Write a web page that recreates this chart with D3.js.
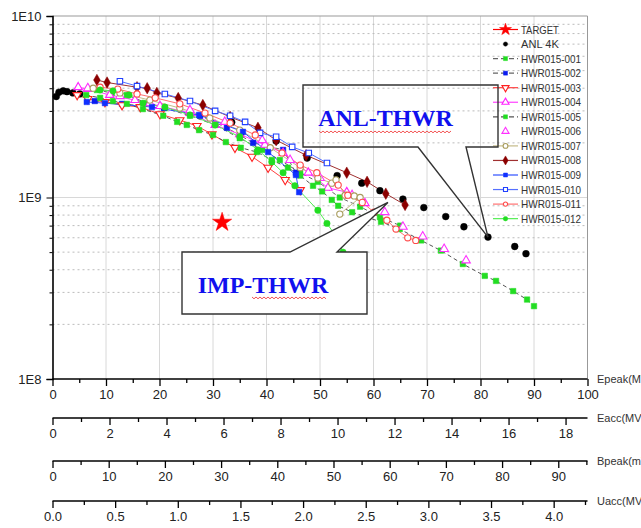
<!DOCTYPE html>
<html>
<head>
<meta charset="utf-8">
<script src="https://cdn.jsdelivr.net/npm/d3@7"></script>
<style>
  body { margin: 0; background: #fff; }
  svg { display: block; font-family: "Liberation Sans", Arial, sans-serif; }
</style>
</head>
<body>
<svg id="chart"></svg>
<script>
// Q0 vs Epeak (MV/m)
var target = [[31.7, 7.3e8]];
var anl4k = [[0.7,3.6e9],[1.2,3.8e9],[2.0,3.87e9],[2.7,3.83e9],[3.8,3.77e9],[5.1,3.72e9],
  [33.5,2.6e9],[35.2,2.24e9],[41.8,2.05e9],[47.6,1.65e9],[53.2,1.32e9],[57.8,1.2e9],
  [61.2,1.09e9],[65.5,9.8e8],[69.4,8.8e8],[73.5,7.85e8],[76.9,6.9e8],[81.4,6.05e8],
  [86.4,5.37e8],[88.5,4.9e8]];
var hwr001 = [[8.3,3.91e9],[11.1,3.77e9],[13.9,3.67e9],[17.7,3.31e9],[21.0,3.11e9],[25.7,2.82e9],
  [30.4,2.51e9],[35.0,2.12e9],[39.2,1.83e9],[42.5,1.61e9],[46.3,1.37e9],[49.6,1.22e9],
  [53.7,1.0e9],[57.5,8.9e8],[61.2,7.8e8],[65.0,7.0e8]];
var hwr002 = [[7.9,3.4e9],[13.0,3.28e9],[20.8,3.11e9],[27.6,2.82e9],[32.6,2.42e9],[37.5,2.0e9],
  [43.1,1.83e9],[45.5,1.37e9]];
var hwr003 = [[4.6,3.67e9],[6.6,3.49e9],[9.8,3.36e9],[13.0,3.23e9],[16.4,3.15e9],[20.1,2.88e9],
  [23.8,2.67e9],[27.0,2.48e9],[29.8,2.23e9],[34.1,1.88e9],[37.3,1.68e9],[40.3,1.46e9],
  [43.5,1.25e9],[46.3,1.1e9]];
var hwr004 = [[4.8,4.05e9],[6.6,3.96e9],[10.7,3.67e9],[15.4,3.44e9],[20.1,3.19e9],[25.7,2.92e9],
  [30.4,2.51e9],[35.0,2.23e9],[39.7,1.95e9],[43.1,1.76e9],[47.8,1.37e9],[51.5,1.13e9],
  [55.0,1.07e9],[58.4,9.3e8]];
var hwr005 = [[6.3,3.67e9],[8.9,3.54e9],[11.3,3.4e9],[13.9,3.28e9],[16.9,3.07e9],[20.7,2.82e9],
  [23.3,2.61e9],[25.1,2.51e9],[27.4,2.35e9],[30.0,2.21e9],[32.4,2.02e9],[35.2,1.88e9],
  [38.2,1.78e9],[41.0,1.61e9],[44.0,1.46e9],[46.3,1.32e9],[48.7,1.16e9],[50.4,1.08e9],
  [52.2,9.7e8],[53.4,9.0e8],[56.0,8.3e8],[58.6,7.8e8],[61.4,7.35e8],[64.9,6.7e8],
  [68.9,5.8e8],[72.6,5.1e8],[76.7,4.3e8],[80.8,3.7e8],[82.9,3.47e8],[86.1,3.05e8],
  [88.7,2.74e8],[90.0,2.52e8]];
var hwr006 = [[6.6,4.0e9],[12.6,3.62e9],[18.2,3.31e9],[25.7,3.03e9],[32.2,2.61e9],[39.2,2.07e9],
  [44.4,1.61e9],[50.0,1.28e9],[56.0,1.03e9],[62.1,8.3e8],[65.5,6.9e8],[69.2,6.1e8],
  [73.2,5.2e8],[77.3,4.5e8]];
var hwr007 = [[7.6,4.0e9],[12.6,3.77e9],[18.2,3.44e9],[23.8,3.11e9],[29.4,2.74e9],[35.0,2.35e9],
  [40.7,1.88e9],[46.3,1.46e9],[49.6,1.28e9],[52.2,1.2e9],[53.0,1.25e9],[54.7,1.03e9],
  [56.4,1.02e9],[57.5,1.0e9],[53.7,8.1e8]];
var hwr008 = [[8.3,4.44e9],[10.2,4.3e9],[15.8,4.05e9],[17.7,4.0e9],[19.5,3.77e9],[23.5,3.53e9],
  [28.1,3.23e9],[33.2,2.78e9],[38.4,2.42e9],[41.8,2.07e9],[47.4,1.71e9],[55.0,1.37e9],
  [58.8,1.22e9],[62.3,1.05e9],[65.9,9.1e8]];
var hwr009 = [[6.4,3.36e9],[9.8,3.31e9],[18.6,3.15e9],[27.4,2.85e9],[35.6,2.3e9],[40.3,1.78e9],
  [45.5,1.33e9],[46.1,1.07e9]];
var hwr010 = [[12.6,4.37e9],[15.8,4.11e9],[21.0,3.72e9],[25.7,3.4e9],[30.4,3.0e9],[33.2,2.82e9],
  [36.0,2.61e9],[38.8,2.27e9],[41.8,2.16e9],[44.8,1.9e9],[47.9,1.76e9],[51.3,1.55e9]];
var hwr011 = [[8.9,4.05e9],[12.2,3.96e9],[15.8,3.72e9],[19.2,3.54e9],[23.8,3.28e9],[28.5,2.92e9],
  [33.2,2.57e9],[37.9,2.21e9],[42.9,1.76e9],[46.3,1.51e9],[49.4,1.37e9],[53.4,1.17e9],
  [55.2,1.03e9],[57.9,9.4e8],[60.1,8.3e8],[62.5,7.5e8],[64.2,6.7e8],[66.4,6.0e8],[67.9,5.8e8]];
var hwr012 = [[8.9,3.91e9],[11.3,3.87e9],[14.3,3.67e9],[16.9,3.31e9],[21.0,3.15e9],[25.7,2.85e9],
  [30.4,2.51e9],[35.0,2.16e9],[38.4,1.83e9],[41.0,1.57e9],[43.1,1.37e9],[45.3,1.16e9],
  [49.6,8.5e8],[51.3,7.2e8],[53.0,6.1e8],[54.3,5.0e8]];

// axis ticks
var epeakTicks = d3.range(0, 101, 10);
var eaccTicks = d3.range(0, 19, 2);
var bpeakTicks = d3.range(0, 91, 10);
var uaccTicks = d3.range(0, 4.01, 0.5);
var qTicks = [1e8, 1e9, 1e10];
var qTickLabels = ["1E8", "1E9", "1E10"];

// config
var config = { w: 641, h: 528, left: 52.5, right: 587.5, top: 16, bottom: 379 };

var svg = d3.select("#chart").attr("width", config.w).attr("height", config.h);

var x = d3.scaleLinear().domain([0, 100]).range([config.left, config.right]);
var y = d3.scaleLog().domain([1e8, 1e10]).range([config.bottom, config.top]);

// grid
var grid = svg.append("g");
grid.selectAll("line.v").data(epeakTicks.slice(1, -1)).enter().append("line")
  .attr("x1", x).attr("x2", x).attr("y1", config.top).attr("y2", config.bottom)
  .attr("stroke", "#d8d8d8").attr("stroke-width", 1);
var minorQ = [];
[1e8, 1e9].forEach(function(d) { for (var k = 2; k < 10; k++) minorQ.push(d * k); });
grid.selectAll("line.h").data(minorQ).enter().append("line")
  .attr("x1", config.left).attr("x2", config.right).attr("y1", y).attr("y2", y)
  .attr("stroke", "#bbb").attr("stroke-dasharray", "2,3");
grid.append("line").attr("x1", config.left).attr("x2", config.right)
  .attr("y1", y(1e9)).attr("y2", y(1e9)).attr("stroke", "#d8d8d8");
// top/right frame
grid.append("path")
  .attr("d", "M" + config.left + "," + config.top + "H" + config.right + "V" + config.bottom)
  .attr("fill", "none").attr("stroke", "#999");

// left axis
var yAxis = svg.append("g").attr("transform", "translate(" + config.left + ",0)")
  .call(d3.axisLeft(y).tickValues(qTicks).tickSize(6)
    .tickFormat(function(d, i) { return qTickLabels[i]; }));
svg.append("g").attr("transform", "translate(" + config.left + ",0)")
  .call(d3.axisLeft(y).tickValues(minorQ).tickSize(3).tickFormat(""))
  .select(".domain").remove();
yAxis.selectAll("text").attr("font-size", 13).attr("fill", "#222").attr("x", -11);
yAxis.select(".domain").attr("stroke-width", 1.6);

// bottom axes
function bottomAxis(scale, yPos, major, minor, fmt, title) {
  var g = svg.append("g").attr("transform", "translate(0," + yPos + ")");
  g.call(d3.axisBottom(scale).tickValues(major).tickSize(7).tickSizeOuter(0).tickFormat(fmt));
  g.append("g").call(d3.axisBottom(scale).tickValues(minor).tickSize(4).tickFormat(""))
    .select(".domain").remove();
  g.select(".domain").attr("d", "M" + config.left + ",0H" + config.right).attr("stroke-width", 1.6);
  g.selectAll("text").attr("font-size", 13).attr("fill", "#222").attr("dy", "0.62em").attr("y", 12);
  g.selectAll("line").attr("stroke-width", 1.3);
  svg.append("text").attr("x", 597).attr("y", yPos + 4).attr("font-size", 11)
    .attr("fill", "#333").text(title);
  return g;
}
bottomAxis(x, config.bottom, epeakTicks, d3.range(5, 100, 10), d3.format("d"), "Epeak(MV/m)");
var eacc = d3.scaleLinear().domain([0, 18.77]).range([config.left, config.right]);
bottomAxis(eacc, 418, eaccTicks, d3.range(1, 19, 2), d3.format("d"), "Eacc(MV/m)");
var bpeak = d3.scaleLinear().domain([0, 95.2]).range([config.left, config.right]);
bottomAxis(bpeak, 461, bpeakTicks, d3.range(5, 96, 10), d3.format("d"), "Bpeak(mT)");
var uacc = d3.scaleLinear().domain([0, 4.27]).range([config.left, config.right]);
bottomAxis(uacc, 501, uaccTicks, d3.range(0.25, 4.27, 0.5), d3.format(".1f"), "Uacc(MV)");

// series styling
var series = [
  { name: "TARGET", data: target, color: "#ff0000", line: "#ff0000", sym: d3.symbolStar, size: 115, lsize: 45, fill: true, noLine: true },
  { name: "ANL 4K", data: anl4k, color: "#000", line: null, sym: d3.symbolCircle, size: 36, lsize: 14, fill: true },
  { name: "HWR015-001", data: hwr001, color: "#22dd22", line: "#666", dash: "4,3", sym: d3.symbolSquare, size: 30, lsize: 16, fill: true },
  { name: "HWR015-002", data: hwr002, color: "#0a1cf0", line: "#666", dash: "4,3", sym: d3.symbolSquare, size: 30, lsize: 16, fill: true },
  { name: "HWR015-003", data: hwr003, color: "#ff2020", line: "#ff4040", sym: d3.symbolTriangle, rot: 180, size: 30, lsize: 22, fill: false },
  { name: "HWR015-004", data: hwr004, color: "#ff20ff", line: "#ff40ff", sym: d3.symbolTriangle, size: 30, lsize: 22, fill: false },
  { name: "HWR015-005", data: hwr005, color: "#22dd22", line: "#555", dash: "4,3", sym: d3.symbolSquare, size: 30, lsize: 16, fill: true },
  { name: "HWR015-006", data: hwr006, color: "#ff30ff", line: null, sym: d3.symbolTriangle, size: 32, lsize: 22, fill: false },
  { name: "HWR015-007", data: hwr007, color: "#a89c5c", line: "#c4bb88", sym: d3.symbolCircle, size: 30, lsize: 18, fill: false },
  { name: "HWR015-008", data: hwr008, color: "#8b0000", line: "#a03030", sym: d3.symbolDiamond, size: 38, lsize: 24, fill: true },
  { name: "HWR015-009", data: hwr009, color: "#1030ff", line: "#3050ff", sym: d3.symbolSquare, size: 30, lsize: 16, fill: true },
  { name: "HWR015-010", data: hwr010, color: "#2040ff", line: "#5570ff", sym: d3.symbolSquare, size: 30, lsize: 16, fill: false },
  { name: "HWR015-011", data: hwr011, color: "#ff4a4a", line: "#ff7070", sym: d3.symbolCircle, size: 30, lsize: 14, fill: false },
  { name: "HWR015-012", data: hwr012, color: "#22dd22", line: "#55ee55", sym: d3.symbolCircle, size: 32, lsize: 16, fill: true }
];

var line = d3.line().x(function(d) { return x(d[0]); }).y(function(d) { return y(d[1]); });

var plot = svg.append("g").attr("id", "plot");
series.forEach(function(s) {
  if (!s.line || s.noLine) return;
  plot.append("path").attr("d", line(s.data)).attr("fill", "none")
    .attr("stroke", s.line).attr("stroke-width", 1)
    .attr("stroke-dasharray", s.dash || null);
});

function drawMarkers(g, s, pts, size) {
  g.selectAll(null).data(pts).enter().append("path")
    .attr("d", d3.symbol().type(s.sym).size(size))
    .attr("transform", function(d) {
      return "translate(" + d[0] + "," + d[1] + ")" + (s.rot ? " rotate(" + s.rot + ")" : "");
    })
    .attr("fill", s.fill ? s.color : "#fff")
    .attr("stroke", s.color).attr("stroke-width", s.fill ? 0.5 : 1.1);
}
series.slice(1).concat(series.slice(0, 1)).forEach(function(s) {
  drawMarkers(plot, s, s.data.map(function(d) { return [x(d[0]), y(d[1])]; }), s.size);
});

// legend
var leg = svg.append("g").attr("id", "legend");
series.forEach(function(s, i) {
  var yy = 29.5 + i * 14.55;
  var r = leg.append("g").attr("transform", "translate(0," + yy + ")");
  if (s.line) {
    r.append("line").attr("x1", 493).attr("x2", 518).attr("y1", 0).attr("y2", 0)
      .attr("stroke", i < 2 ? s.color : s.line).attr("stroke-width", 1.2)
      .attr("stroke-dasharray", s.dash ? "5,3" : null);
  }
  drawMarkers(r, s, [[505.5, 0]], s.lsize);
  var t = r.append("text").attr("x", 521).attr("y", 4).attr("font-size", 11)
    .attr("fill", "#333").text(s.name);
  if (i > 1) t.attr("textLength", 60).attr("lengthAdjust", "spacingAndGlyphs");
  else t.attr("textLength", s.name.length * 6.3).attr("lengthAdjust", "spacingAndGlyphs");
});

// annotations
function wavy(x0, x1, yy) {
  var d = "M" + x0 + "," + yy, k = 0;
  for (var xx = x0 + 2; xx <= x1; xx += 2) { d += "L" + xx + "," + (yy + (k++ % 2 ? 0 : 1.8)); }
  return d;
}
var ann = svg.append("g").attr("id", "annotations");
var anlTip = [x(81.4), y(6.05e8)];
ann.append("path")
  .attr("d", "M303,85H498V147H466L" + anlTip[0] + "," + anlTip[1] + "L418,147H303Z")
  .attr("fill", "none").attr("stroke", "#333").attr("stroke-width", 1.4);
ann.append("text").attr("x", 385.5).attr("y", 126).attr("text-anchor", "middle")
  .attr("font-family", "'Liberation Serif', 'Times New Roman', serif").attr("font-weight", "bold")
  .attr("font-size", 24).attr("fill", "#1010ee").text("ANL-THWR");
ann.append("path").attr("d", wavy(319, 452, 131)).attr("fill", "none")
  .attr("stroke", "#f04040").attr("stroke-width", 0.9);

var impTip = [x(62.7), y(9.4e8)];
ann.append("path")
  .attr("d", "M182,252H290L" + impTip[0] + "," + impTip[1] + "L337,252H367V314H182Z")
  .attr("fill", "#fff").attr("stroke", "#333").attr("stroke-width", 1.4);
ann.append("text").attr("x", 263).attr("y", 293).attr("text-anchor", "middle")
  .attr("font-family", "'Liberation Serif', 'Times New Roman', serif").attr("font-weight", "bold")
  .attr("font-size", 24).attr("fill", "#1010ee").text("IMP-THWR");
ann.append("path").attr("d", wavy(252, 327, 297)).attr("fill", "none")
  .attr("stroke", "#f04040").attr("stroke-width", 0.9);
</script>
</body>
</html>
